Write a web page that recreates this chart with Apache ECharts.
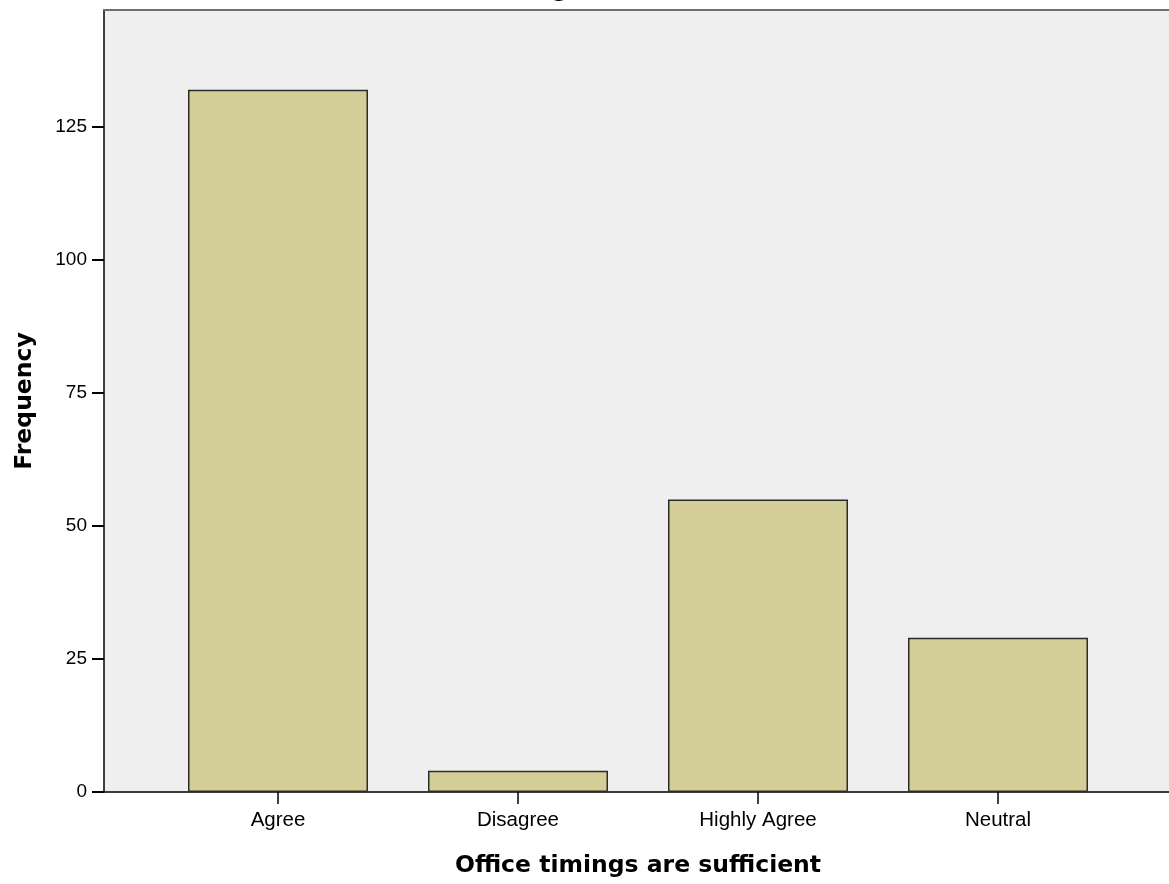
<!DOCTYPE html>
<html>
<head>
<meta charset="utf-8">
<script src="https://cdn.jsdelivr.net/npm/echarts@6/dist/echarts.min.js"></script>
<style>
  html, body { margin: 0; padding: 0; background: #fff; }
  #main { width: 1169px; height: 884px; }
</style>
</head>
<body>
<div id="main"></div>
<script>
// data
var categories = ['Agree', 'Disagree', 'Highly Agree', 'Neutral'];
var frequency = [132, 4, 55, 29];
var yTicks = [0, 25, 50, 75, 100, 125];
var yMax = 147;

var font = 'Arial, "Liberation Sans", sans-serif';
var boldFont = '"DejaVu Sans", Verdana, sans-serif';

var myChart = echarts.init(document.getElementById('main'));
var option = {
    animation: false,
    backgroundColor: '#fff',
    // chart title sits above the visible area, only the descender shows
    title: {
        text: 'Office timings are sufficient',
        left: 394,
        top: -27,
        textStyle: { fontFamily: boldFont, fontSize: 23.5, fontWeight: 'bold', color: '#000' }
    },
    grid: [
        // frame / background
        { left: 104, right: -3, top: 10, bottom: 92, show: true, backgroundColor: '#efefef', borderWidth: 0 },
        // bars
        { left: 158, width: 960, top: 10, bottom: 92 }
    ],
    xAxis: [
        {
            gridIndex: 0, type: 'value', position: 'bottom', min: 0, max: 1,
            axisLine: { show: true, onZero: false, lineStyle: { color: '#000', width: 1.5 } },
            axisTick: { show: false }, axisLabel: { show: false }, splitLine: { show: false }
        },
        {
            gridIndex: 0, type: 'value', position: 'top', min: 0, max: 1,
            axisLine: { show: true, onZero: false, lineStyle: { color: '#6e6e6e', width: 2 } },
            axisTick: { show: false }, axisLabel: { show: false }, splitLine: { show: false }
        },
        {
            gridIndex: 1, type: 'category', data: categories,
            axisLine: { show: false },
            axisTick: { show: true, alignWithLabel: true, length: 12, lineStyle: { color: '#000', width: 1.5 } },
            axisLabel: { fontFamily: font, fontSize: 20.5, color: '#000', margin: 18 },
            name: 'Office timings are sufficient',
            nameLocation: 'middle',
            nameGap: 62,
            nameTextStyle: { fontFamily: boldFont, fontSize: 23.5, fontWeight: 'bold', color: '#000' }
        }
    ],
    yAxis: [
        {
            gridIndex: 0, type: 'value', min: 0, max: yMax,
            axisLine: { show: true, lineStyle: { color: '#000', width: 1.5 } },
            axisTick: { show: true, length: 12, customValues: yTicks, lineStyle: { color: '#000', width: 2 } },
            axisLabel: { fontFamily: font, fontSize: 19, color: '#000', margin: 17, customValues: yTicks },
            splitLine: { show: false },
            name: 'Frequency',
            nameLocation: 'middle',
            nameGap: 67,
            nameTextStyle: { fontFamily: boldFont, fontSize: 23.5, fontWeight: 'bold', color: '#000' }
        },
        {
            gridIndex: 1, type: 'value', min: 0, max: yMax, show: false
        }
    ],
    series: [
        {
            type: 'bar',
            xAxisIndex: 2,
            yAxisIndex: 1,
            data: frequency,
            barWidth: 180,
            itemStyle: { color: '#d3ce97', borderColor: '#2b2b2b', borderWidth: 1.5 },
            emphasis: { disabled: true }
        }
    ]
};
myChart.setOption(option);

window.addEventListener('resize', function () {
    myChart.resize();
}, false);
</script>
</body>
</html>
